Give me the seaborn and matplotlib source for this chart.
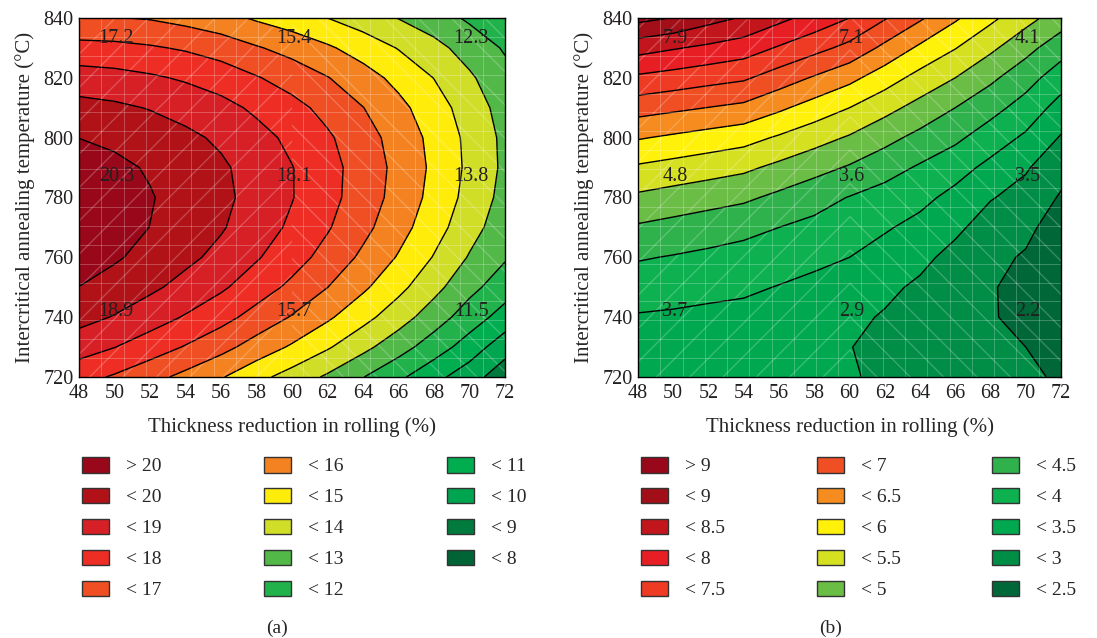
import numpy as np
import matplotlib
matplotlib.use("Agg")
import matplotlib.pyplot as plt
import seaborn as sns
from matplotlib.patches import Patch, Rectangle

# grid of the response surfaces
thickness = [48, 50, 52, 54, 56, 58, 60, 62, 64, 66, 68, 70, 72]
temperature = [720, 730, 740, 750, 760, 770, 780, 790, 800, 810, 820, 830, 840]

# panel (a): one list per thickness value, temperature 720 -> 840
resp_a = [
    [17.35, 18.45, 19.33, 19.99, 20.43, 20.65, 20.65, 20.43, 19.99, 19.33, 18.45, 17.35, 16.03],
    [16.89, 18.02, 18.94, 19.63, 20.11, 20.36, 20.40, 20.21, 19.81, 19.18, 18.34, 17.27, 16.04],
    [16.33, 17.50, 18.45, 19.19, 19.70, 19.99, 20.06, 19.91, 19.54, 18.95, 18.14, 17.11, 15.93],
    [15.73, 16.93, 17.92, 18.68, 19.23, 19.55, 19.66, 19.55, 19.21, 18.66, 17.88, 16.89, 15.67],
    [15.08, 16.32, 17.34, 18.15, 18.73, 19.09, 19.23, 19.15, 18.84, 18.31, 17.55, 16.56, 15.35],
    [14.30, 15.58, 16.64, 17.47, 18.09, 18.48, 18.66, 18.61, 18.33, 17.82, 17.07, 16.09, 14.87],
    [13.59, 14.87, 15.93, 16.78, 17.41, 17.83, 18.04, 18.03, 17.78, 17.31, 16.59, 15.65, 14.47],
    [12.85, 14.11, 15.16, 16.01, 16.65, 17.09, 17.32, 17.34, 17.14, 16.70, 16.04, 15.14, 14.00],
    [12.03, 13.27, 14.32, 15.17, 15.81, 16.27, 16.52, 16.57, 16.41, 16.02, 15.41, 14.57, 13.50],
    [11.20, 12.41, 13.44, 14.27, 14.92, 15.38, 15.65, 15.73, 15.61, 15.27, 14.72, 13.95, 12.97],
    [10.31, 11.49, 12.49, 13.30, 13.94, 14.41, 14.69, 14.80, 14.72, 14.45, 13.98, 13.31, 12.45],
    [9.43, 10.55, 11.50, 12.29, 12.92, 13.38, 13.67, 13.79, 13.75, 13.54, 13.15, 12.58, 11.85],
    [8.40, 9.40, 10.60, 11.45, 12.10, 12.45, 12.68, 12.80, 12.77, 12.60, 12.30, 11.90, 11.30],
]

# panel (b)
resp_b = [
    [3.10, 3.28, 3.46, 3.74, 4.04, 4.44, 4.91, 5.43, 6.04, 6.71, 7.41, 8.19, 9.15],
    [3.08, 3.25, 3.43, 3.69, 3.97, 4.34, 4.80, 5.32, 5.92, 6.60, 7.30, 8.04, 8.98],
    [3.07, 3.21, 3.39, 3.63, 3.90, 4.23, 4.70, 5.21, 5.80, 6.49, 7.18, 7.90, 8.68],
    [3.05, 3.18, 3.36, 3.58, 3.83, 4.13, 4.59, 5.10, 5.68, 6.38, 7.07, 7.75, 8.45],
    [3.04, 3.12, 3.27, 3.48, 3.72, 4.00, 4.39, 4.88, 5.44, 6.09, 6.76, 7.45, 8.13],
    [3.04, 3.07, 3.19, 3.38, 3.61, 3.88, 4.18, 4.67, 5.19, 5.79, 6.45, 7.16, 7.82],
    [3.03, 3.01, 3.10, 3.28, 3.50, 3.75, 3.98, 4.45, 4.95, 5.50, 6.14, 6.86, 7.50],
    [2.94, 2.90, 2.96, 3.10, 3.31, 3.55, 3.80, 4.20, 4.65, 5.16, 5.73, 6.38, 7.04],
    [2.85, 2.80, 2.82, 2.92, 3.12, 3.36, 3.63, 3.94, 4.36, 4.83, 5.33, 5.91, 6.57],
    [2.72, 2.66, 2.65, 2.72, 2.85, 3.10, 3.36, 3.69, 4.10, 4.50, 5.00, 5.52, 6.07],
    [2.65, 2.58, 2.53, 2.53, 2.60, 2.78, 3.03, 3.37, 3.75, 4.17, 4.60, 5.10, 5.61],
    [2.57, 2.50, 2.40, 2.38, 2.46, 2.60, 2.83, 3.05, 3.42, 3.80, 4.20, 4.66, 5.17],
    [2.45, 2.29, 2.19, 2.16, 2.19, 2.29, 2.45, 2.67, 2.96, 3.31, 3.73, 4.21, 4.75],
]

levels_a = [8, 9, 10, 11, 12, 13, 14, 15, 16, 17, 18, 19, 20]
levels_b = [2.5, 3, 3.5, 4, 4.5, 5, 5.5, 6, 6.5, 7, 7.5, 8, 8.5, 9]

# low -> high (first = below lowest level, last = above highest)
colors_a = ['#006437', '#007a3d', '#00a550', '#00ad4f', '#21b24b', '#52b848', '#d0de27',
            '#ffec0a', '#f58220', '#f04e23', '#ee2e24', '#d71f26', '#b01218', '#98081a']
colors_b = ['#006838', '#008d45', '#00a94f', '#0db14f', '#2fb24c', '#6abd45', '#d5e021',
            '#fff10a', '#f68b1f', '#f04e23', '#ef3a24', '#e81e25', '#c2161c', '#a30f18', '#98081a']

labels_a = ['> 20', '< 20', '< 19', '< 18', '< 17', '< 16', '< 15', '< 14',
            '< 13', '< 12', '< 11', '< 10', '< 9', '< 8']
labels_b = ['> 9', '< 9', '< 8.5', '< 8', '< 7.5', '< 7', '< 6.5', '< 6',
            '< 5.5', '< 5', '< 4.5', '< 4', '< 3.5', '< 3', '< 2.5']

# measured values written on the maps
point_x = [50, 60, 70]
point_y = [742, 787, 833]
points_a = [[18.9, 15.7, 11.5], [20.3, 18.1, 13.8], [17.2, 15.4, 12.3]]
points_b = [[3.7, 2.9, 2.2], [4.8, 3.6, 3.5], [7.9, 7.1, 4.1]]

sns.set_theme(style="white")
plt.rcParams['font.family'] = ['Liberation Serif', 'DejaVu Serif']

W, H = 1097, 638
fig = plt.figure(figsize=(W / 100, H / 100), dpi=100)


def px_rect(x0, y0, x1, y1):
    return [x0 / W, 1 - y1 / H, (x1 - x0) / W, (y1 - y0) / H]


def draw_panel(ax, resp, levels, colors, points):
    X, Y = np.meshgrid(thickness, temperature)
    Z = np.array(resp).T
    lv = [levels[0] - 100] + levels + [levels[-1] + 100]
    ax.contourf(X, Y, Z, levels=lv, colors=colors)
    ax.contour(X, Y, Z, levels=levels, colors='black', linewidths=1.0)

    # light mesh of the surface plot
    for gx in np.linspace(48, 72, 20)[1:-1]:
        ax.axvline(gx, color='white', lw=0.6, alpha=0.28)
    for gy in np.linspace(720, 840, 20)[1:-1]:
        ax.axhline(gy, color='white', lw=0.6, alpha=0.28)
    ax.add_patch(Rectangle((48, 720), 12, 120, fill=False, hatch='/',
                           edgecolor=(1, 1, 1, 0.22), lw=0))
    ax.add_patch(Rectangle((60, 720), 12, 120, fill=False, hatch='\\',
                           edgecolor=(1, 1, 1, 0.22), lw=0))

    for j, yy in enumerate(point_y):
        for i, xx in enumerate(point_x):
            ax.text(xx + 0.1, yy, f"{points[j][i]}", ha='center', va='center',
                    fontsize=14.5, color='#231f20')

    ax.set_xlim(48, 72)
    ax.set_ylim(720, 840)
    ax.set_xticks(range(48, 73, 2))
    ax.set_yticks(range(720, 841, 20))
    ax.tick_params(direction='in', length=3, width=0.8, labelsize=14.5,
                   top=True, right=True, colors='#231f20', pad=4)
    ax.tick_params(axis='x', pad=5)
    ax.set_xlabel('Thickness reduction in rolling (%)', fontsize=15, labelpad=10)
    ax.set_ylabel('Intercritical annealing temperature (°C)', fontsize=15, labelpad=6)
    for s in ax.spines.values():
        s.set_color('black')
        s.set_linewidth(1.0)


ax_a = fig.add_axes(px_rect(79, 18, 505, 377))
draw_panel(ax_a, resp_a, levels_a, colors_a, points_a)
ax_b = fig.add_axes(px_rect(638, 18, 1061, 377))
draw_panel(ax_b, resp_b, levels_b, colors_b, points_b)


def draw_legend(labels, colors, col_x, caption, cap_x):
    cols_hi = colors[::-1]
    for c in range(3):
        lab = labels[5 * c:5 * c + 5]
        handles = [Patch(facecolor=cols_hi[5 * c + k], edgecolor='#333333', lw=1.0,
                         label=lab[k]) for k in range(len(lab))]
        fig.legend(handles=handles, loc='upper left',
                   bbox_to_anchor=(col_x[c] / W, 1 - 457 / H), frameon=False,
                   fontsize=14, handlelength=1.4, handleheight=0.85,
                   handletextpad=0.85, labelspacing=0.64, borderpad=0,
                   borderaxespad=0)
    fig.text(cap_x / W, 1 - 628 / H, caption, ha='center', va='center', fontsize=14)


draw_legend(labels_a, colors_a, [82, 264, 447], '(a)', 277)
draw_legend(labels_b, colors_b, [641, 817, 992], '(b)', 831)

fig.savefig('out.png', dpi=100)
